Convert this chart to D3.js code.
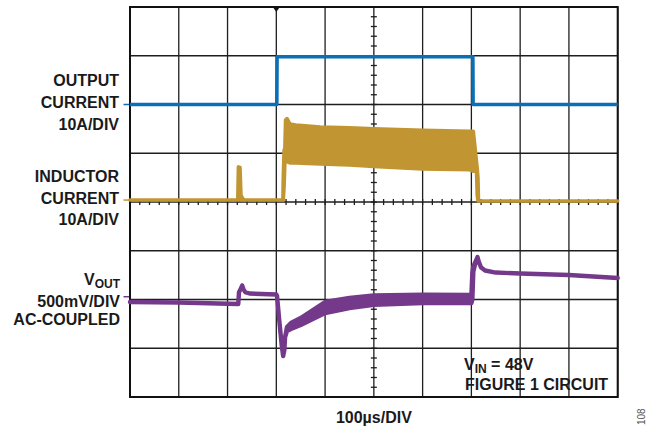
<!DOCTYPE html>
<html>
<head>
<meta charset="utf-8">
<script src="https://cdn.jsdelivr.net/npm/d3@7"></script>
<style>
  html, body { margin: 0; padding: 0; background: #fff; }
  svg { display: block; }
  text { font-family: "Liberation Sans", Arial, sans-serif; font-weight: bold; fill: #1a1a1a; }
</style>
</head>
<body>
<svg id="chart" width="647" height="430"></svg>
<script>
// ---- Data (time in µs, 100 µs/DIV) ----
// Output current, A (10 A/DIV)
const ioutTime = [0, 301, 301.5, 703, 703.5, 1000];
const ioutAmps = [0, 0, 9.8, 9.8, 0, 0];

// Inductor current envelope, A (10 A/DIV): time, upper, lower
const ilTime = [0, 221, 222.3, 225.5, 227.5, 231, 235, 313.5, 314.3, 316, 317.5, 319, 322, 328, 340, 390, 450, 500, 600, 697, 704, 710.5, 712, 713.5, 714.5, 1000];
const ilHigh = [0, 0, 6.8, 6.7, 1.0, 0.3, 0, 0, 4.6, 10.3, 10.3, 16.4, 16.7, 15.6, 15.4, 15.0, 14.8, 14.6, 14.3, 14.1, 14.1, 7.8, 6.5, 4.5, -0.2, -0.2];
const ilLow  = [0, 0, 0, 0.5, 0, 0, 0, 0, 0, 3.0, 7.5, 7.9, 7.9, 7.6, 7.6, 7.4, 7.2, 6.9, 6.4, 6.2, 5.9, 5.9, 1.0, -0.2, -0.2, -0.2];

// Output voltage envelope, mV (500 mV/DIV, AC-coupled): time, upper, lower
const voTime = [0, 100, 222, 223.5, 226, 230, 232.5, 236, 245, 270, 300, 301.5, 306, 311, 314, 316.5, 318, 322, 330, 350, 400, 450, 500, 600, 700, 702, 704, 708, 712.5, 716, 720, 728, 750, 800, 900, 1000];
const voHigh = [-54, -59, -75, 48, 69, 115, 79, 48, 33, 28, 23, 7, -239, -495, -608, -547, -413, -310, -269, -218, -54, -13, 14, 21, 17, 250, 310, 356, 407, 346, 299, 269, 248, 238, 223, 192];
const voLow  = [-54, -59, -75, 48, 69, 115, 79, 48, 33, 28, 23, 7, -239, -495, -608, -547, -413, -351, -331, -290, -167, -116, -82, -65, -65, -30, 260, 340, 395, 346, 299, 269, 248, 238, 223, 192];

// Channel settings
const ioutPerDiv = 10, ioutOffsetDiv = 2.0;
const ilPerDiv = 10, ilOffsetDiv = 0.04;
const voPerDiv = 500, voOffsetDiv = -1.943;

const xDivTicks = d3.range(0, 1001, 100);
const yDivTicks = d3.range(-4, 5, 1);
const xMinorTicks = d3.range(0, 1001, 20);
const yMinorTicks = d3.range(-4, 4.001, 0.2);

const leftLabels = [
  { lines: ["OUTPUT", "CURRENT", "10A/DIV"], base: [86, 108, 130] },
  { lines: ["INDUCTOR", "CURRENT", "10A/DIV"], base: [182, 203.5, 225] }
];

// ---- Drawing ----
const svg = d3.select("#chart");
const W = 647, H = 430;
const x = d3.scaleLinear().domain([0, 1000]).range([130, 617.7]);
const y = d3.scaleLinear().domain([-4, 4]).range([397, 7]);

svg.append("rect").attr("width", W).attr("height", H).attr("fill", "#fff");

const colBlue = "#0b6fb6", colGold = "#c19632", colPurple = "#74398a";

// grid
const grid = svg.append("g");
grid.selectAll("line.v").data(xDivTicks).join("line")
  .attr("x1", d => x(d)).attr("x2", d => x(d))
  .attr("y1", y(4)).attr("y2", y(-4))
  .attr("stroke", "#1e1e1e").attr("stroke-width", 1.3);
grid.selectAll("line.h").data(yDivTicks).join("line")
  .attr("x1", x(0)).attr("x2", x(1000))
  .attr("y1", d => y(d)).attr("y2", d => y(d))
  .attr("stroke", "#1e1e1e").attr("stroke-width", 1.3);
// minor ticks on centre lines
grid.selectAll("line.mx").data(xMinorTicks).join("line")
  .attr("x1", d => x(d)).attr("x2", d => x(d))
  .attr("y1", y(0) - 3).attr("y2", y(0) + 3)
  .attr("stroke", "#1e1e1e").attr("stroke-width", 1.3);
grid.selectAll("line.my").data(yMinorTicks).join("line")
  .attr("x1", x(500) - 3).attr("x2", x(500) + 3)
  .attr("y1", d => y(d)).attr("y2", d => y(d))
  .attr("stroke", "#1e1e1e").attr("stroke-width", 1.3);
// frame
svg.append("rect")
  .attr("x", x(0)).attr("y", y(4))
  .attr("width", x(1000) - x(0)).attr("height", y(-4) - y(4))
  .attr("fill", "none").attr("stroke", "#111").attr("stroke-width", 2);

// trigger marker
svg.append("path")
  .attr("d", `M${x(300) - 3.5},${y(4)} L${x(300) + 3.5},${y(4)} L${x(300)},${y(4) + 5} Z`)
  .attr("fill", "#111");

// traces
const ioutData = ioutTime.map((t, i) => ({ t, v: ioutAmps[i] }));
svg.append("path")
  .datum(ioutData)
  .attr("d", d3.line().x(d => x(d.t)).y(d => y(ioutOffsetDiv + d.v / ioutPerDiv)))
  .attr("fill", "none").attr("stroke", colBlue).attr("stroke-width", 3.6)
  .attr("stroke-linejoin", "round");

const ilData = ilTime.map((t, i) => ({ t, hi: ilHigh[i], lo: ilLow[i] }));
svg.append("path")
  .datum(ilData)
  .attr("d", d3.area().x(d => x(d.t))
    .y0(d => y(ilOffsetDiv + d.lo / ilPerDiv))
    .y1(d => y(ilOffsetDiv + d.hi / ilPerDiv)))
  .attr("fill", colGold).attr("stroke", colGold).attr("stroke-width", 3.6)
  .attr("stroke-linejoin", "round");

const voData = voTime.map((t, i) => ({ t, hi: voHigh[i], lo: voLow[i] }));
svg.append("path")
  .datum(voData)
  .attr("d", d3.area().x(d => x(d.t))
    .y0(d => y(voOffsetDiv + d.lo / voPerDiv))
    .y1(d => y(voOffsetDiv + d.hi / voPerDiv)))
  .attr("fill", colPurple).attr("stroke", colPurple).attr("stroke-width", 4.4)
  .attr("stroke-linejoin", "round");

// channel reference markers
[[ioutOffsetDiv, colBlue], [ilOffsetDiv, colGold], [voOffsetDiv, colPurple]].forEach(([o, c]) => {
  svg.append("line")
    .attr("x1", 123.5).attr("x2", 129).attr("y1", y(o)).attr("y2", y(o))
    .attr("stroke", c).attr("stroke-width", 1.5);
});

// left labels
leftLabels.forEach(g => {
  g.lines.forEach((s, i) => {
    svg.append("text").attr("x", 119).attr("y", g.base[i])
      .attr("text-anchor", "end").attr("font-size", 16).text(s);
  });
});
const vout = svg.append("text").attr("x", 120).attr("y", 285)
  .attr("text-anchor", "end").attr("font-size", 16);
vout.append("tspan").text("V");
vout.append("tspan").attr("font-size", 12).attr("dy", 3).text("OUT");
svg.append("text").attr("x", 120).attr("y", 306.5).attr("text-anchor", "end")
  .attr("font-size", 16).text("500mV/DIV");
svg.append("text").attr("x", 120).attr("y", 324.5).attr("text-anchor", "end")
  .attr("font-size", 16).text("AC-COUPLED");

// annotation
const vin = svg.append("text").attr("x", 464).attr("y", 370).attr("font-size", 16);
vin.append("tspan").text("V");
vin.append("tspan").attr("font-size", 12).attr("dy", 3).text("IN");
vin.append("tspan").attr("dy", -3).text(" = 48V");
svg.append("text").attr("x", 465).attr("y", 390).attr("font-size", 16).text("FIGURE 1 CIRCUIT");

// x-axis label
svg.append("text").attr("x", x(500)).attr("y", 423).attr("text-anchor", "middle")
  .attr("font-size", 16).text("100µs/DIV");

// figure number
svg.append("text").attr("transform", "translate(645,425) rotate(-90)")
  .attr("font-size", 10).style("font-weight", "normal").style("fill", "#555")
  .text("108");
</script>
</body>
</html>
